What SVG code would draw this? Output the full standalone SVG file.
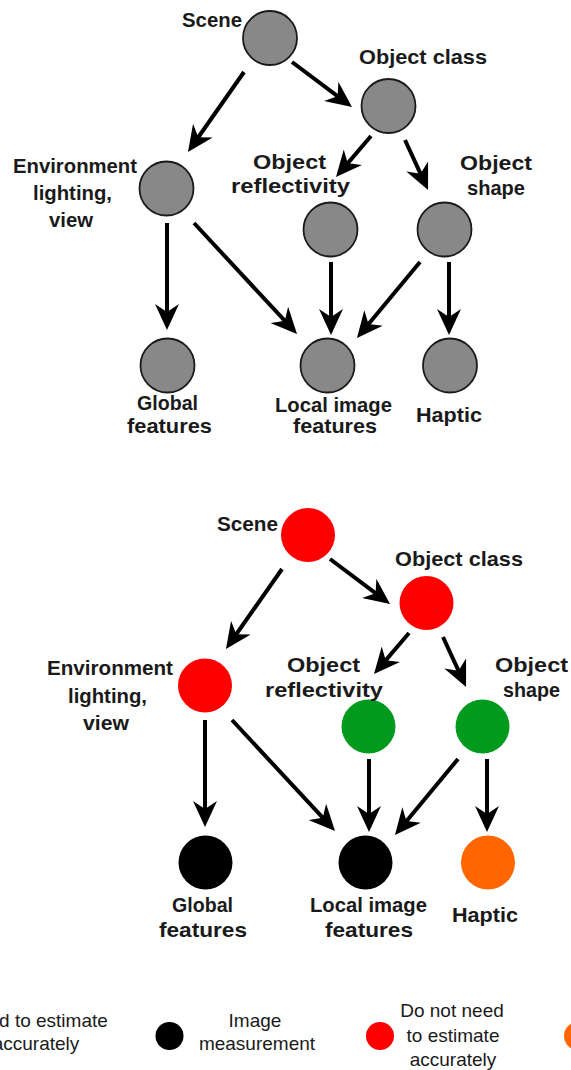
<svg xmlns="http://www.w3.org/2000/svg" width="571" height="1070" viewBox="0 0 571 1070">
<style>
.lbl{font-family:"Liberation Sans",Arial,sans-serif;font-weight:bold;font-size:21px;fill:#1a1a1a}
.leg{font-family:"Liberation Sans",Arial,sans-serif;font-size:19px;fill:#1a1a1a;text-anchor:middle}
.gray{fill:#888888;stroke:#1a1a1a;stroke-width:1.8}
.red{fill:#ff0000}
.green{fill:#009a1c}
.black{fill:#000000}
.orange{fill:#ff6600}
.conn line{stroke:#000;stroke-width:4;marker-end:url(#ah)}
</style>
<defs>
<marker id="ah" viewBox="0 0 26 24" markerWidth="26" markerHeight="24" refX="12" refY="12" markerUnits="userSpaceOnUse" orient="auto">
<path d="M0,0 L26,12 L0,24 L8,12 Z" fill="#000"/>
</marker>
</defs>
<rect width="571" height="1070" fill="#fff"/>

<!-- top graph -->
<g id="top-connectors" class="conn">
<line x1="292" y1="62" x2="340.8" y2="98.6"/>
<line x1="244" y1="72" x2="196" y2="140.5"/>
<line x1="371" y1="136" x2="345.1" y2="166.4"/>
<line x1="405" y1="140" x2="422.2" y2="177.3"/>
<line x1="167" y1="223" x2="167" y2="316"/>
<line x1="194" y1="223" x2="287.5" y2="323.7"/>
<line x1="331" y1="262" x2="331" y2="321"/>
<line x1="420" y1="262" x2="365.9" y2="327.2"/>
<line x1="449" y1="262" x2="449" y2="321"/>
</g>
<g id="t-scene"><circle class="gray" cx="270" cy="38" r="27"/><text class="lbl" x="182" y="27" textLength="60" lengthAdjust="spacingAndGlyphs">Scene</text></g>
<g id="t-objclass"><circle class="gray" cx="388.5" cy="106" r="27"/><text class="lbl" x="359" y="64" textLength="128" lengthAdjust="spacingAndGlyphs">Object class</text></g>
<g id="t-env"><circle class="gray" cx="166.5" cy="188.5" r="27"/><text class="lbl" x="13" y="173" textLength="124" lengthAdjust="spacingAndGlyphs">Environment</text><text class="lbl" x="33" y="200" textLength="79" lengthAdjust="spacingAndGlyphs">lighting,</text><text class="lbl" x="49" y="227" textLength="44" lengthAdjust="spacingAndGlyphs">view</text></g>
<g id="t-refl"><circle class="gray" cx="330.5" cy="229.5" r="27"/><text class="lbl" x="253" y="169" textLength="73" lengthAdjust="spacingAndGlyphs">Object</text><text class="lbl" x="231" y="193" textLength="119" lengthAdjust="spacingAndGlyphs">reflectivity</text></g>
<g id="t-shape"><circle class="gray" cx="444.5" cy="229.5" r="27"/><text class="lbl" x="460" y="170" textLength="72" lengthAdjust="spacingAndGlyphs">Object</text><text class="lbl" x="467" y="195" textLength="58" lengthAdjust="spacingAndGlyphs">shape</text></g>
<g id="t-global"><circle class="gray" cx="167.5" cy="365.5" r="27"/><text class="lbl" x="137" y="410" textLength="61" lengthAdjust="spacingAndGlyphs">Global</text><text class="lbl" x="127" y="433" textLength="85" lengthAdjust="spacingAndGlyphs">features</text></g>
<g id="t-local"><circle class="gray" cx="327.5" cy="365.5" r="27"/><text class="lbl" x="275" y="412" textLength="117" lengthAdjust="spacingAndGlyphs">Local image</text><text class="lbl" x="293" y="433" textLength="84" lengthAdjust="spacingAndGlyphs">features</text></g>
<g id="t-haptic"><circle class="gray" cx="450" cy="365.5" r="27"/><text class="lbl" x="416" y="422" textLength="66" lengthAdjust="spacingAndGlyphs">Haptic</text></g>

<!-- bottom graph -->
<g id="bottom-connectors" class="conn">
<line x1="330" y1="559" x2="378.8" y2="595.6"/>
<line x1="282" y1="569" x2="234" y2="637.5"/>
<line x1="409" y1="633" x2="383.1" y2="663.4"/>
<line x1="443" y1="637" x2="460.2" y2="674.3"/>
<line x1="205" y1="720" x2="205" y2="813"/>
<line x1="232" y1="720" x2="325.5" y2="820.7"/>
<line x1="369" y1="759" x2="369" y2="818"/>
<line x1="458" y1="759" x2="403.9" y2="824.2"/>
<line x1="487" y1="759" x2="487" y2="818"/>
</g>
<g id="b-scene"><circle class="red" cx="308" cy="535" r="27"/><text class="lbl" x="217" y="531" textLength="61" lengthAdjust="spacingAndGlyphs">Scene</text></g>
<g id="b-objclass"><circle class="red" cx="426.5" cy="603" r="27"/><text class="lbl" x="395" y="566" textLength="128" lengthAdjust="spacingAndGlyphs">Object class</text></g>
<g id="b-env"><circle class="red" cx="205" cy="685.5" r="27"/><text class="lbl" x="47" y="675" textLength="126" lengthAdjust="spacingAndGlyphs">Environment</text><text class="lbl" x="68" y="703" textLength="79" lengthAdjust="spacingAndGlyphs">lighting,</text><text class="lbl" x="83" y="730" textLength="46" lengthAdjust="spacingAndGlyphs">view</text></g>
<g id="b-refl"><circle class="green" cx="368.5" cy="726.5" r="27"/><text class="lbl" x="287" y="672" textLength="73" lengthAdjust="spacingAndGlyphs">Object</text><text class="lbl" x="265" y="697" textLength="118" lengthAdjust="spacingAndGlyphs">reflectivity</text></g>
<g id="b-shape"><circle class="green" cx="482.5" cy="726.5" r="27"/><text class="lbl" x="495" y="672" textLength="73" lengthAdjust="spacingAndGlyphs">Object</text><text class="lbl" x="503" y="697" textLength="57" lengthAdjust="spacingAndGlyphs">shape</text></g>
<g id="b-global"><circle class="black" cx="205.5" cy="862.5" r="27"/><text class="lbl" x="172" y="912" textLength="61" lengthAdjust="spacingAndGlyphs">Global</text><text class="lbl" x="159" y="937" textLength="88" lengthAdjust="spacingAndGlyphs">features</text></g>
<g id="b-local"><circle class="black" cx="365.5" cy="862.5" r="27"/><text class="lbl" x="310" y="912" textLength="117" lengthAdjust="spacingAndGlyphs">Local image</text><text class="lbl" x="325" y="937" textLength="88" lengthAdjust="spacingAndGlyphs">features</text></g>
<g id="b-haptic"><circle class="orange" cx="488" cy="862.5" r="27"/><text class="lbl" x="452" y="922" textLength="66" lengthAdjust="spacingAndGlyphs">Haptic</text></g>

<!-- legend -->
<g id="legend-need"><text class="leg" x="36" y="1027">Need to estimate</text><text class="leg" x="36" y="1050">accurately</text></g>
<g id="legend-image"><circle class="black" cx="169.5" cy="1036" r="14"/><text class="leg" x="255" y="1027">Image</text><text class="leg" x="257" y="1050">measurement</text></g>
<g id="legend-donot"><circle class="red" cx="380" cy="1036" r="14"/><text class="leg" x="452" y="1017">Do not need</text><text class="leg" x="453" y="1042">to estimate</text><text class="leg" x="453" y="1066">accurately</text></g>
<g id="legend-orange"><circle class="orange" cx="578" cy="1036" r="14"/></g>
</svg>
